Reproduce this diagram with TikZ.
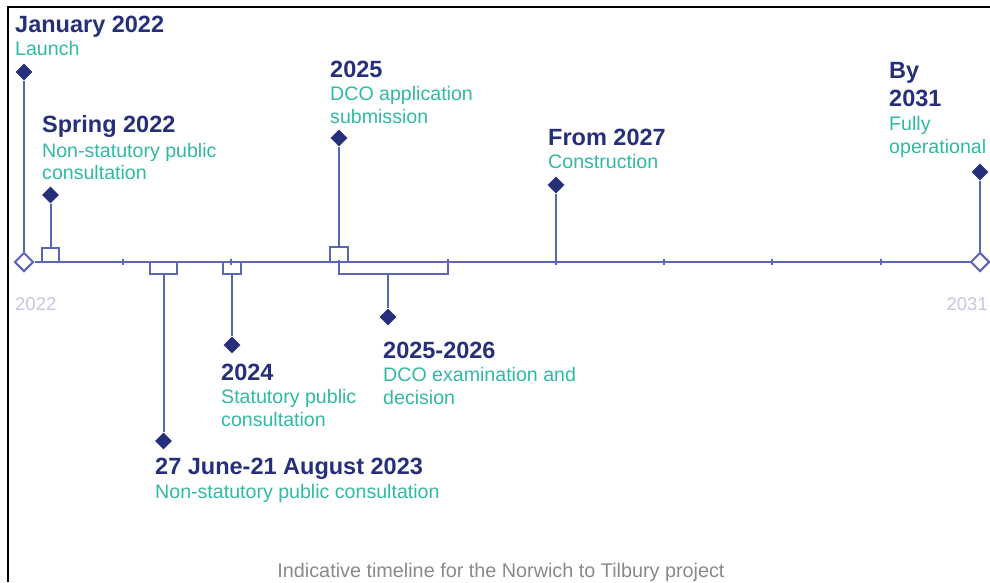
\documentclass[tikz,border=0pt]{standalone}
\usepackage{fontspec}
\setmainfont{Liberation Sans}
\usetikzlibrary{shapes.geometric}
\definecolor{navy}{HTML}{26307A}
\definecolor{tealc}{HTML}{30BAA4}
\definecolor{lineblue}{HTML}{5C64B4}
\definecolor{yearc}{HTML}{C5C7E2}
\definecolor{capc}{HTML}{8A8A8A}
\tikzset{
  ttl/.style={anchor=base west, inner sep=0pt, text=navy, font=\fontsize{23.5}{27}\selectfont\bfseries},
  dsc/.style={anchor=base west, inner sep=0pt, text=tealc, font=\fontsize{19.6}{23}\selectfont},
  ln/.style={draw=lineblue, line width=2pt},
  fd/.style={diamond, aspect=1, fill=navy, minimum width=17pt, minimum height=17pt, inner sep=0pt},
  od/.style={diamond, aspect=1, draw=lineblue, fill=white, line width=2pt, minimum width=19pt, minimum height=19pt, inner sep=0pt},
  bx/.style={rectangle, draw=lineblue, line width=2pt, inner sep=0pt},
  yr/.style={inner sep=0pt, text=yearc, font=\fontsize{18.5}{22}\selectfont},
}
\begin{document}
\begin{tikzpicture}[x=1pt,y=-1pt]
\useasboundingbox[fill=white] (0,0) rectangle (990,582);
\draw[black, line width=2.2pt] (8,582) -- (8,7) -- (990,7);

% axis
\node[od] (s) at (24,262) {};
\node[od] (e) at (980,262) {};
\draw[ln] (s.east) -- (e.west);
\foreach \x in {123,231,448,556,664,772,881} \draw[ln] (\x,259) -- (\x,265);

% boxes
\node[bx, minimum width=17pt, minimum height=14pt] (b1) at (50.5,255) {};
\node[bx, minimum width=27pt, minimum height=12pt] (b2) at (163.5,268) {};
\node[bx, minimum width=18pt, minimum height=12pt] (b3) at (232,268) {};
\node[bx, minimum width=18pt, minimum height=15pt] (b4) at (339,254.5) {};
\draw[ln] (339,260) -- (339,274) -- (448,274) -- (448,259);
\coordinate (br) at (388,274);

% diamonds
\node[fd] (d1) at (24,72) {};
\node[fd] (d2) at (50.5,195) {};
\node[fd] (d3) at (163.5,441) {};
\node[fd] (d4) at (232,345) {};
\node[fd] (d5) at (339,138) {};
\node[fd] (d6) at (388,317) {};
\node[fd] (d7) at (556,185) {};
\node[fd] (d8) at (980,172) {};

% stems
\draw[ln] (d1) -- (s.north);
\draw[ln] (d2) -- (b1.north);
\draw[ln] (d3) -- (b2.south);
\draw[ln] (d4) -- (b3.south);
\draw[ln] (d5) -- (b4.north);
\draw[ln] (d6) -- (br);
\draw[ln] (d7) -- (556,262);
\draw[ln] (d8) -- (e.north);

% texts
\node[ttl] (t1) at (15,32) {January 2022};
\node[dsc] (t1a) at (15,55) {Launch};

\node[ttl] (t2) at (42,132) {Spring 2022};
\node[dsc] (t2a) at (42,157) {Non-statutory public};
\node[dsc] (t2b) at (42,179) {consultation};

\node[ttl] (t3) at (330,77) {2025};
\node[dsc] (t3a) at (330,100) {DCO application};
\node[dsc] (t3b) at (330,123) {submission};

\node[ttl] (t4) at (548,145) {From 2027};
\node[dsc] (t4a) at (548,168) {Construction};

\node[ttl] (t5) at (889,78) {By};
\node[ttl] (t5b) at (889,106) {2031};
\node[dsc] (t5c) at (889,130) {Fully};
\node[dsc] (t5d) at (889,153) {operational};

\node[ttl] (t6) at (221,380) {2024};
\node[dsc] (t6a) at (221,403) {Statutory public};
\node[dsc] (t6b) at (221,426) {consultation};

\node[ttl] (t7) at (383,358) {2025-2026};
\node[dsc] (t7a) at (383,381) {DCO examination and};
\node[dsc] (t7b) at (383,404) {decision};

\node[ttl] (t8) at (155,474) {27 June-21 August 2023};
\node[dsc] (t8a) at (155,498) {Non-statutory public consultation};

\node[yr, anchor=base west] (y1) at (15,310) {2022};
\node[yr, anchor=base east] (y2) at (988,310) {2031};

\node[inner sep=0pt, anchor=base, text=capc, font=\fontsize{19.8}{22}\selectfont] (cap) at (501,577) {Indicative timeline for the Norwich to Tilbury project};
\end{tikzpicture}
\end{document}
